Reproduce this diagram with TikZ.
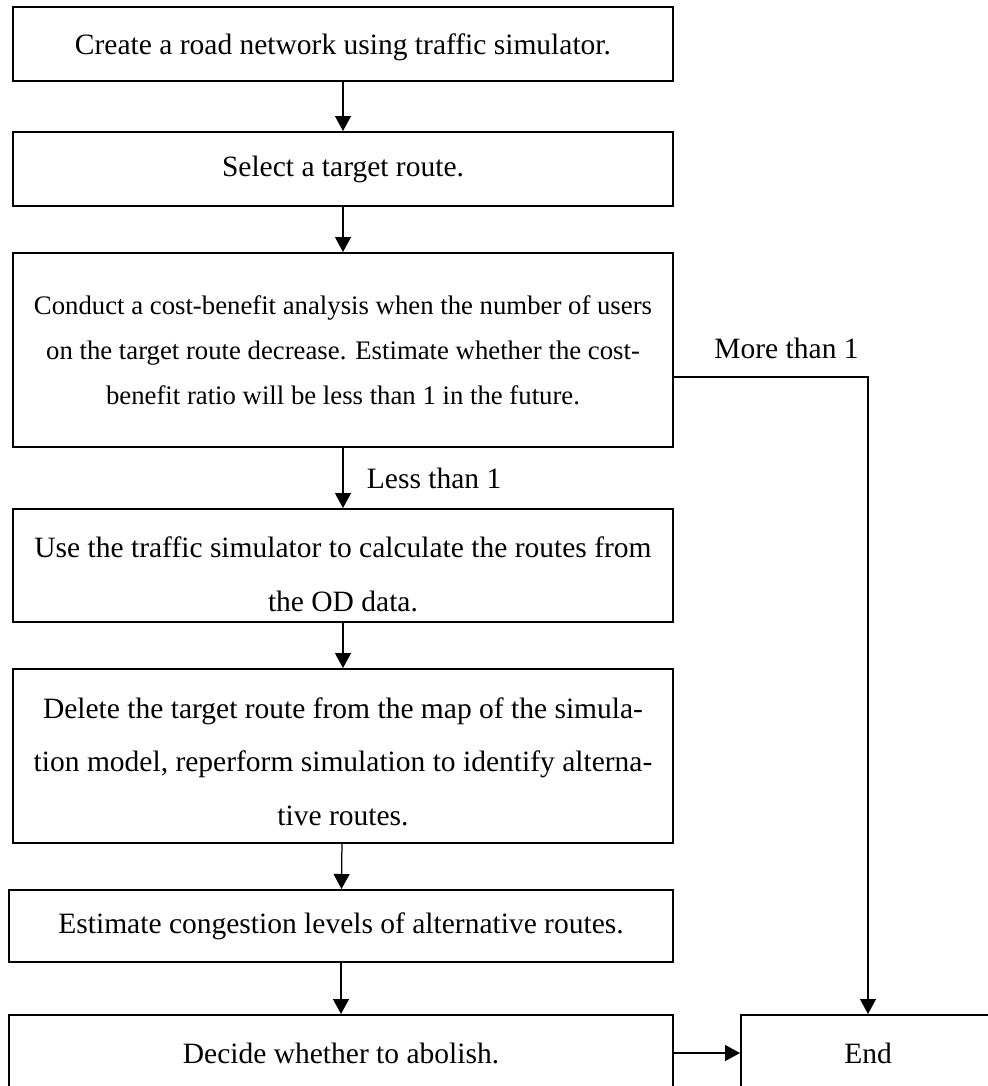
\documentclass[tikz,border=0pt]{standalone}
\usepackage{fontspec}
\setmainfont{Liberation Serif}
\usetikzlibrary{arrows.meta}

\begin{document}
\begin{tikzpicture}
  [x=0.4pt, y=-0.4pt,
    process/.style={
      draw=black, line width=0.8pt,
      minimum width=264pt,
      align=center,
      font=\fontsize{11.8}{21.4}\selectfont
    },
    note/.style={
      font=\fontsize{11.8}{14}\selectfont
    },
    flow/.style={
      -{Triangle[width=6.4pt,length=6pt]}, line width=0.5pt
    }
  ]
  \useasboundingbox (0,0) rectangle (987,1086);

  \node[process, minimum height=29.6pt] (create) at (343,44)
    {\rule{0pt}{11pt}Create a road network using traffic simulator.};
  \node[process, minimum height=29.6pt] (select) at (343,169)
    {Select a target route.};
  \node[process, minimum height=77.6pt, font=\fontsize{10.7}{18}\selectfont] (cba) at (343,350)
    {Conduct a cost-benefit analysis when the number of users\\
     on the target route decrease. Estimate whether the cost-\\
     benefit ratio will be less than 1 in the future.};
  \node[process, minimum height=45.2pt] (od) at (343,565.5)
    {\rule{0pt}{15.3pt}Use the traffic simulator to calculate the routes from\\
     the OD data.};
  \node[process, minimum height=69.6pt] (delete) at (343,756)
    {\rule{0pt}{12.9pt}Delete the target route from the map of the simula-\\
     tion model, reperform simulation to identify alterna-\\
     tive routes.};
  \node[process, minimum height=28.8pt, minimum width=265.6pt] (congest) at (341,926)
    {Estimate congestion levels of alternative routes.};
  \node[process, minimum height=30.4pt, minimum width=265.6pt] (decide) at (341,1053)
    {Decide whether to abolish.};
  \node[process, minimum height=30.4pt, minimum width=101.6pt] (end) at (868,1053)
    {End};

  \draw[flow] (create) -- (select);
  \draw[flow] (select) -- (cba);
  \draw[flow] (cba) -- node[note, right=6pt] {Less than 1} (od);
  \draw[flow] (od) -- (delete);
  \draw[flow] (delete) -- (congest);
  \draw[flow] (congest) -- (decide);
  \draw[flow] (decide) -- (end);
  \draw[flow] ([yshift=-10.8pt]cba.east) -| node[note, above=3.6pt, pos=0.29] {More than 1} (end);
\end{tikzpicture}
\end{document}
